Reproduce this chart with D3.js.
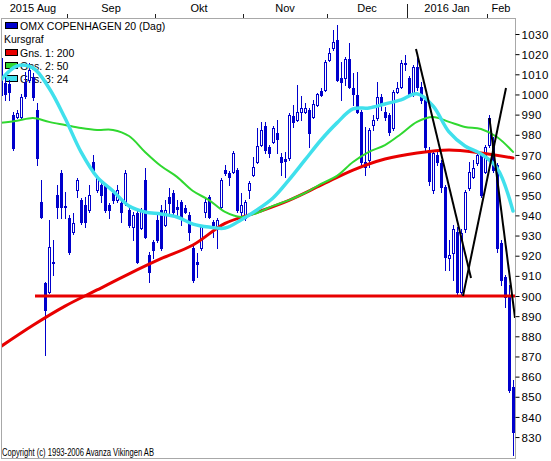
<!DOCTYPE html>
<html><head><meta charset="utf-8">
<script src="https://cdn.jsdelivr.net/npm/d3@7"></script>
<style>body{margin:0;background:#fff}svg{display:block}text{font-family:"Liberation Sans",Arial,sans-serif}</style>
</head><body><svg id="c" width="551" height="461"></svg>
<script>
// ---- data ----
const startDate = "2015-08-07", endDate = "2016-02-09";
const holidays = ["2015-12-24","2015-12-25","2015-12-31","2016-01-01"];
const open = [1018,1005.5,1005,990,989,989,1006,1007,1008.5,992.5,946.5,906.5,902,917,950,961,944.5,
 938.5,932,952.5,947.5,945,942.5,966.5,952.5,955,955,945,951,947.5,946,946,942.5,934,941,933.5,957.5,920.5,927,
 937.5,942.5,935,949,951,944,946.5,943.5,940,924,917,924,941.5,949,936.5,933,944,962.5,961,961.5,962.5,941.5,
 938.5,952.5,960,966.5,975,984.5,974,976.5,981,969,968,968.5,989.5,987.5,991.5,991.5,992.5,989,995,1001.5,1002,
 1017,1023,1027,1008,1008,1017.5,1003,999.5,991.5,966.5,967.5,985,988.5,998.5,991.5,990,983.5,1001,1003.5,1015,
 1008,1000,1013.5,1003.5,997.5,972.5,952.5,970,966,954,919,921.5,932,902,933,953.5,959,966,970,961.5,
 975,975,965,926.5,909.5,899.5,855];
const high = [1019.5,1008,1007,991.5,992.5,1000,1011,1015.5,1010.5,996,957.5,907,937.5,928,955,962.5,951.5,
 940,941,958.5,948.5,949,955,970,960,956.5,956,946,952.5,955,947.5,962.5,945,941.5,942.5,943.5,963.5,922,928,
 940,945,947.5,953.5,952.5,947.5,947.5,945,941.5,925,921.5,935,949,950,937.5,938.5,958.5,965,962,972,963.5,951,
 947.5,957,969,983.5,986.5,986.5,975,984.5,987.5,971,971.5,991,995,1004.5,999,996,993.5,997.5,1000.5,1003,1017,
 1023,1032,1034.5,1016,1018.5,1025.5,1010.5,1011,992.5,984,983.5,990,1006,1000,994,991,1002,1006,1017,1019.5,
 1009,1014.5,1018,1006,998.5,974,972.5,972.5,967.5,955,928,935,934,933,952.5,966.5,967.5,971.5,971.5,975,
 990,979,966,928,910.5,905.5,858.5];
const low = [997.5,997.5,997.5,972.5,988.5,988.5,998,1006,997.5,965,938.5,870.5,901.5,910.5,938.5,938.5,938.5,
 921,931,949,935.5,934,941.5,961.5,951.5,946.5,941.5,938.5,946,946.5,936.5,945,934,928,916.5,933,929,907,919,
 927,923,934.5,941,940.5,939,935,941,928,907,909.5,923,939,938.5,929.5,924,943.5,960,955,961,941.5,937.5,
 937.5,948.5,959.5,966,974.5,971,969,976,971,960,959,967.5,984,987,987.5,991,974,988.5,994.5,999,1001.5,
 1016.5,1022,1006.5,997.5,1004.5,1003,995,991,964,960,964,982.5,987.5,992.5,987.5,980,982.5,1000.5,1003,1012,
 999,999,1002,996,972.5,955,951,965,951.5,913,913,908,900,900,932,952.5,958.5,965,949,961,
 974,961.5,922,905.5,894.5,852.5,821];
const close = [999.5,1000,1001,973.5,991,998.5,999,1012,998.5,968.5,939,893,924.5,916.5,944,944,944,
 922,936,957.5,936.5,936.5,950,962.5,958.5,950,942.5,942.5,947.5,952.5,941.5,961,935,940,917,942.5,929.5,912,923,
 928,924,942.5,946,941.5,943,939,941.5,932,908,916,934,946.5,939,935,937.5,957.5,961,959,971,942.5,945,
 946.5,956,964,974.5,982.5,972.5,971,983.5,978,966.5,967,990,986.5,991.5,993.5,993.5,981,995.5,1000,999.8,1016,
 1020.5,1026,1007,1006,1017.5,1003.5,1000,991.5,966.5,964,982.5,987.5,998.5,995,989,981.5,1001,1003,1015.5,1015.6,
 1000,1013.5,1003.5,997.5,974,957,971,966.5,954,919.5,920.5,933,902,931.3,951.5,961.5,963.5,970,950,974,
 988.5,962.5,924,908,899.5,853.5,832.5];

// moving averages read at every 8th (200) / 4th (50, 24) trading day
const ma200Step = 8;
const ma200 = [875,885.5,895,903,911,918.5,925.3,936,941.5,947.5,955,962.5,968,971,972.5,971,968.5];
const maStep = 4;
const ma50 = [985.9,986.9,988.3,986.4,984.9,983.4,982.4,982.4,979.4,971.5,964.5,959.1,952.1,947.6,941.7,939.2,
 941.2,944.7,947.6,951.1,955.6,959.6,966.5,971.5,974.9,980.4,986.4,988.8,986.4,983.9,982.9,978.9,971.5];
const ma24 = [1007.2,1014.1,1013.2,1003.2,988.3,971.5,959.1,952.1,944.7,941.7,940.7,939.2,935.7,934.2,933.7,937.7,
 942.7,948.6,957.6,967.5,977.4,985.9,992.8,993.3,995.3,997.3,1000.3,994.3,981.4,974.4,970.5,963.5,942.2];

const supportLevel = 900, supportFrom = 8;
// drawn trend lines: [trading-day position, value]
const trendLines = [
  [[103.75,1022.6],[117.5,908.9]],
  [[115.5,900],[126.25,1003.2]],
  [[122.1,988.3],[128.5,889.1]]
];
const monthLabels = ["2015 Aug","Sep","Okt","Nov","Dec","2016 Jan","Feb"];
const yTicks = [830,840,850,860,870,880,890,900,910,920,930,940,950,960,970,980,990,1000,1010,1020,1030];
const legendItems = [
  {label:"OMX COPENHAGEN 20 (Dag)", color:"#0000cc"},
  {label:"Kursgraf", color:null},
  {label:"Gns. 1: 200", color:"#e80000"},
  {label:"Gns. 2: 50", color:"#30d830"},
  {label:"Gns. 3: 24", color:"#40e0ec"}
];

// ---- chart ----
const C = {blue:"#0000cc", red:"#e80000", green:"#30d830", cyan:"#40e0ec", border:"#a8a8a8"};
const svg = d3.select("#c");
const W = 551, H = 461, L = 1, R = 515, T = 18, B = 458;
const fmt = d3.utcFormat("%Y-%m-%d");
const days = d3.utcDay.range(new Date(startDate), d3.utcDay.offset(new Date(endDate), 1))
  .filter(d => d.getUTCDay() !== 0 && d.getUTCDay() !== 6 && !holidays.includes(fmt(d)));
const n = open.length;
const x = d3.scaleLinear().domain([0, n - 1]).range([1, 513]);
const y = d3.scaleLinear().domain([900, 1030]).range([296, 34]);

svg.append("rect").attr("width", W).attr("height", H).attr("fill", "#fff");
svg.append("defs").append("clipPath").attr("id", "pc")
  .append("rect").attr("x", L).attr("y", T + 0.5).attr("width", R - L).attr("height", B - T);

// legend (under the marks)
const lg = svg.append("g");
legendItems.forEach((it, k) => {
  const base = 30 + k * 13.3;
  if (it.color) lg.append("rect").attr("x", 5.5).attr("y", Math.round(base - 8) + 0.5)
    .attr("width", 12).attr("height", 6).attr("fill", it.color).attr("stroke", "#000").attr("stroke-width", 1);
  lg.append("text").attr("x", it.color ? 20 : 4).attr("y", base).attr("font-size", "10.5px")
    .attr("fill", "#000").text(it.label);
});

const plot = svg.append("g").attr("clip-path", "url(#pc)");
const candles = plot.append("g");
d3.range(n).forEach(i => {
  const cx = Math.round(x(i));
  const yo = Math.round(y(open[i])), yc = Math.round(y(close[i]));
  const yh = Math.round(y(high[i])), yl = Math.round(y(low[i]));
  candles.append("line").attr("x1", cx + 0.5).attr("x2", cx + 0.5).attr("y1", yh).attr("y2", yl + 1)
    .attr("stroke", C.blue).attr("stroke-width", 1);
  if (close[i] < open[i]) {
    candles.append("rect").attr("x", cx - 1).attr("width", 3).attr("y", yo)
      .attr("height", Math.max(1, yc - yo + 1)).attr("fill", C.blue);
  } else {
    candles.append("rect").attr("x", cx - 0.5).attr("width", 2).attr("y", yc + 0.5)
      .attr("height", Math.max(0, yo - yc)).attr("fill", "#fff").attr("stroke", C.blue).attr("stroke-width", 1);
  }
});

const line = d3.line().x(d => x(d[0])).y(d => y(d[1]));
plot.append("path").attr("d", line([[supportFrom + 0.5, supportLevel], [n - 0.5, supportLevel]]))
  .attr("stroke", C.red).attr("stroke-width", 3).attr("fill", "none");

const smooth = d3.line().x(d => x(d[0])).y(d => y(d[1])).curve(d3.curveCatmullRom.alpha(0.5));
const maDefs = [
  {vals: ma200, step: ma200Step, color: C.red, w: 3},
  {vals: ma50, step: maStep, color: C.green, w: 2},
  {vals: ma24, step: maStep, color: C.cyan, w: 3.5}
];
maDefs.forEach(m => {
  plot.append("path").attr("d", smooth(m.vals.map((v, k) => [k * m.step, v])))
    .attr("fill", "none").attr("stroke", m.color).attr("stroke-width", m.w)
    .attr("stroke-linejoin", "round").attr("stroke-linecap", "round");
});
trendLines.forEach(t => {
  plot.append("path").attr("d", line(t)).attr("stroke", "#000").attr("stroke-width", 2).attr("fill", "none");
});

// frame
svg.append("rect").attr("x", L + 0.5).attr("y", T + 0.5).attr("width", R - L).attr("height", B - T)
  .attr("fill", "none").attr("stroke", C.border).attr("stroke-width", 1);

// month axis on top
const starts = [0];
for (let i = 1; i < days.length; i++) if (days[i].getUTCMonth() !== days[i - 1].getUTCMonth()) starts.push(i);
const bounds = starts.map(i => i === 0 ? x(0) - 2 : (x(i - 1) + x(i)) / 2);
bounds.push(R);
starts.forEach((i, k) => {
  if (k > 0) {
    const bx = Math.round(bounds[k]) + 0.5;
    const yearTick = days[i].getUTCMonth() === 0;
    svg.append("line").attr("x1", bx).attr("x2", bx).attr("y1", yearTick ? 4 : 14).attr("y2", T)
      .attr("stroke", "#202020").attr("stroke-width", 1);
  }
  svg.append("text").attr("x", (bounds[k] + bounds[k + 1]) / 2).attr("y", 11.5)
    .attr("text-anchor", "middle").attr("font-size", "11px").attr("fill", "#000").text(monthLabels[k]);
});

// value axis on the right
const ax = svg.append("g").attr("transform", `translate(${R + 0.5},0)`)
  .call(d3.axisRight(y).tickValues(yTicks).tickSize(4).tickPadding(2).tickFormat(d3.format("d")));
ax.select(".domain").remove();
ax.selectAll("line").attr("stroke", "#000");
ax.selectAll("text").attr("font-size", "11.5px").attr("letter-spacing", "0.4px")
  .attr("font-family", '"Liberation Sans",Arial,sans-serif').attr("fill", "#000").attr("dy", "0.36em");

svg.append("text").attr("x", 2).attr("y", 456).attr("font-size", "10px")
  .attr("font-family", '"Liberation Serif","Times New Roman",serif')
  .attr("textLength", 152).attr("lengthAdjust", "spacingAndGlyphs").attr("fill", "#000")
  .text("Copyright (c) 1993-2006 Avanza Vikingen AB");
</script></body></html>
